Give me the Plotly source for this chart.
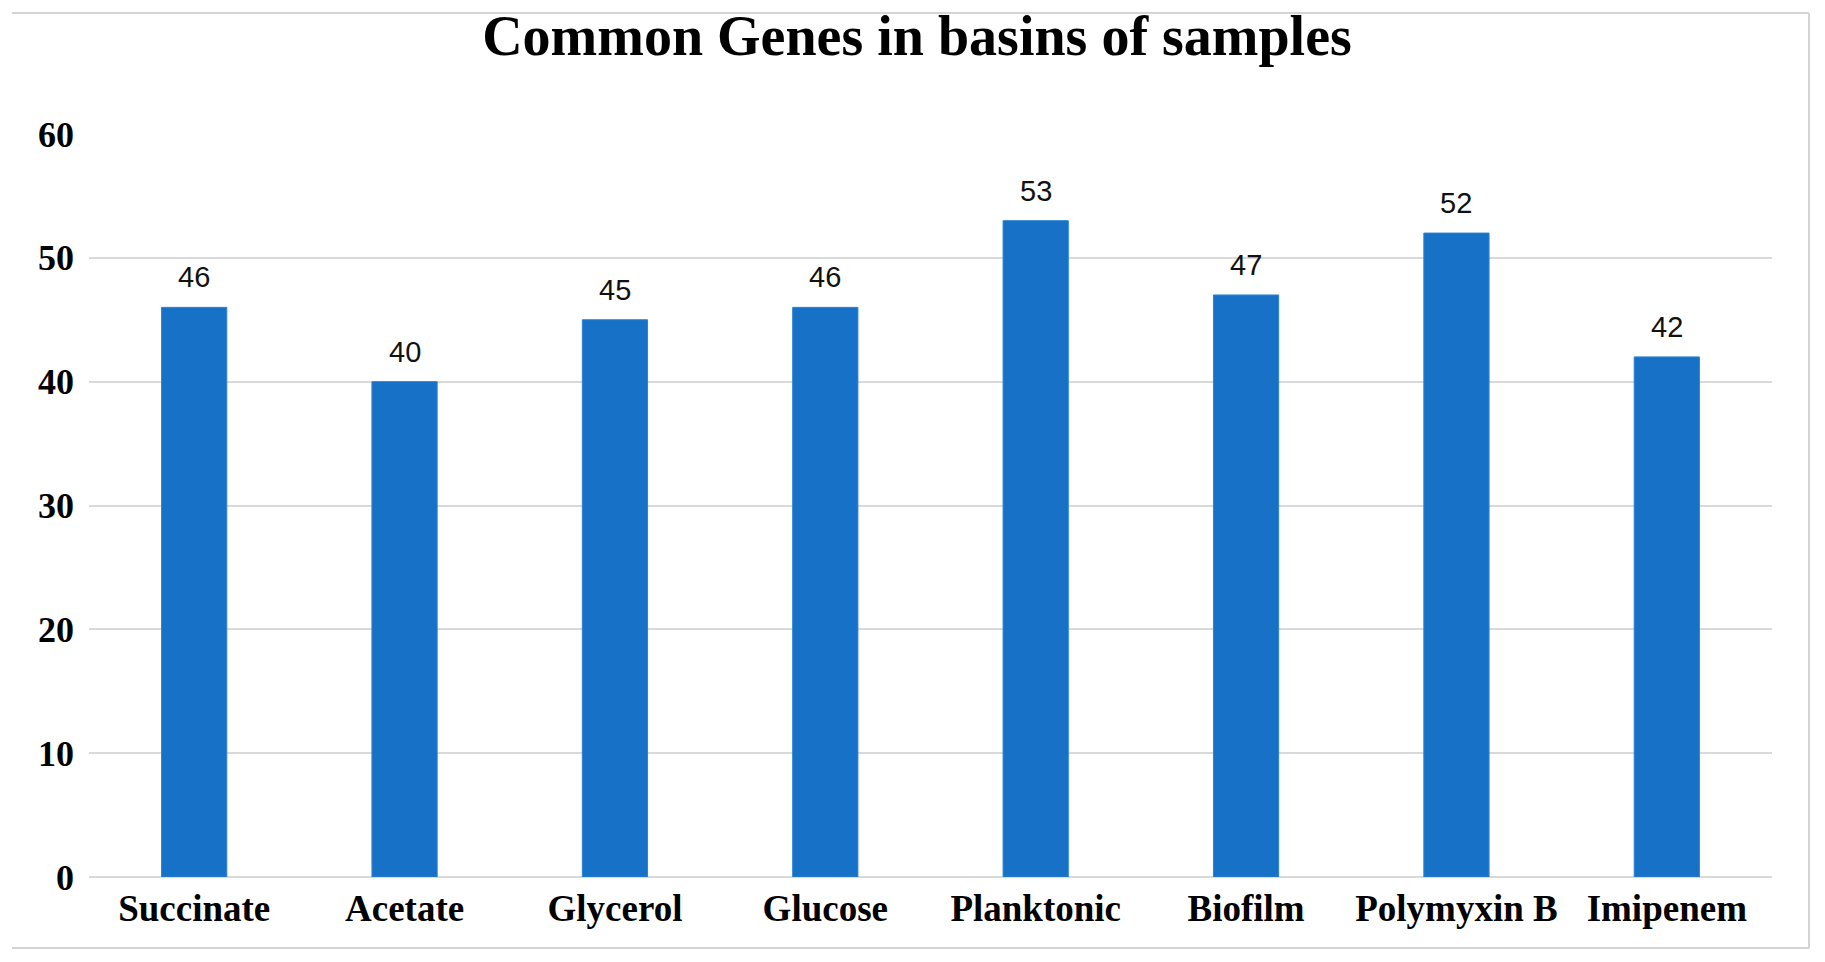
import plotly.graph_objects as go

# data
samples = ["Succinate", "Acetate", "Glycerol", "Glucose", "Planktonic", "Biofilm", "Polymyxin B", "Imipenem"]
genes = [46, 40, 45, 46, 53, 47, 52, 42]
yticks = [0, 10, 20, 30, 40, 50, 60]

# page body keeps its 8px margin, so the figure is 16px smaller than the window
W, H = 1809, 946
ml, mr, mt, mb = 81, 45, 126, 77
pw = W - ml - mr
ph = H - mt - mb

def px(x):
    return (x - ml) / pw

def py(y):
    return (H - mb - y) / ph

serif = "Times New Roman, Liberation Serif, serif"

fig = go.Figure()
fig.add_trace(go.Bar(
    x=samples, y=genes,
    width=0.31,
    marker=dict(color="#1671c7", line=dict(color="#2b82d2", width=1)),
))

# value labels above bars
annots = []
for s, g in zip(samples, genes):
    annots.append(dict(x=s, y=g, text=str(g), showarrow=False, yanchor="bottom",
                       yshift=12, font=dict(family="Arial, Liberation Sans, sans-serif", size=29, color="#111111")))

# light frame around the chart (top, right, bottom)
frame = dict(type="line", xref="paper", yref="paper", line=dict(color="#d4d4d4", width=2))
shapes = [
    dict(frame, x0=px(4), x1=px(1801), y0=py(5), y1=py(5)),
    dict(frame, x0=px(1801), x1=px(1801), y0=py(5), y1=py(940)),
    dict(frame, x0=px(4), x1=px(1801), y0=py(940), y1=py(940)),
]

fig.update_layout(
    width=W, height=H,
    margin=dict(l=ml, r=mr, t=mt, b=mb),
    paper_bgcolor="white", plot_bgcolor="white",
    title=dict(text="<b>Common Genes in basins of samples</b>", x=909 / W, xanchor="center",
               y=1 - 27 / H, yanchor="middle", font=dict(family=serif, size=56, color="black")),
    showlegend=False,
    annotations=annots,
    shapes=shapes,
    xaxis=dict(showgrid=False, showline=False, ticks="", ticklabelstandoff=6,
               tickfont=dict(family=serif, size=37, color="black", weight="bold")),
    yaxis=dict(range=[0, 60], tickvals=yticks, showgrid=True, gridcolor="#d9d9d9", gridwidth=2,
               zeroline=True, zerolinecolor="#d9d9d9", zerolinewidth=2, showline=False, ticks="",
               ticklabelstandoff=14,
               tickfont=dict(family=serif, size=36, color="black", weight="bold")),
)

fig.write_html("out.html")
